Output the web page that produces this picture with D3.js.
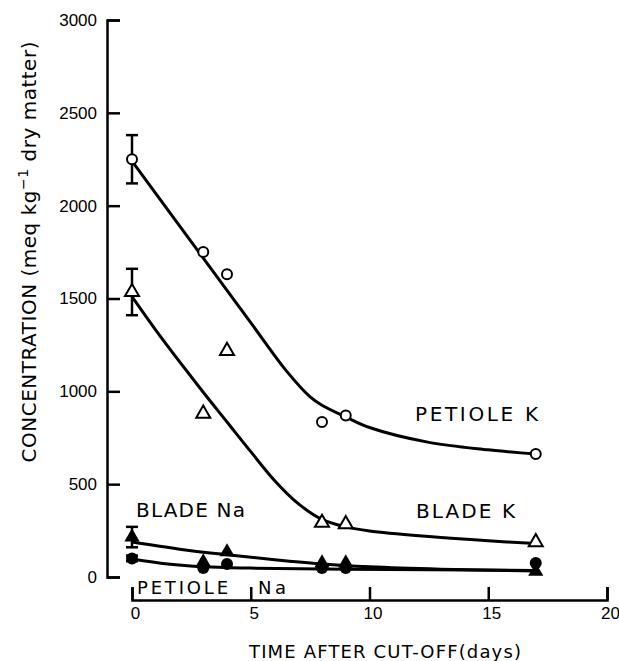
<!DOCTYPE html>
<html>
<head>
<meta charset="utf-8">
<style>
  body { margin: 0; background: #fff; }
  svg { display: block; font-family: 'DejaVu Sans', sans-serif; }
</style>
</head>
<body>
<svg width="619" height="661"></svg>
<script src="https://d3js.org/d3.v7.min.js"></script>
<script>
// measured points (days after cut-off)
const days = [0, 3, 4, 8, 9, 17];
const petioleK = [2250, 1750, 1630, 835, 870, 662];
const bladeK = [1535, 880, 1218, 292, 285, 188];
const bladeNa = [215, 80, 135, 75, 75, 30];
const petioleNa = [100, 48, 70, 48, 48, 75];

// error bars at day 0
const errDay0 = { petioleK: 130, bladeK: 125, bladeNa: 55, petioleNa: 15 };

// hand fitted curves
const petioleKFit = [[0, 2240], [3, 1718], [5, 1370], [6.5, 1110], [7.5, 970], [8, 925], [9, 862], [10, 805], [12.5, 725], [15, 685], [17, 662]];
const bladeKFit = [[0, 1510], [1, 1330], [2, 1160], [3, 995], [4, 835], [5, 675], [6, 520], [7, 395], [8, 310], [9, 270], [10, 248], [12.5, 218], [15, 195], [17, 180]];
const bladeNaFit = [[0, 188], [2, 150], [4, 120], [6, 93], [8, 70], [10, 55], [13, 42], [17, 32]];
const petioleNaFit = [[0, 97], [1.5, 70], [3, 55], [5, 48], [9, 42], [17, 35]];

const xTicks = [0, 5, 10, 15, 20];
const yTicks = [0, 500, 1000, 1500, 2000, 2500, 3000];

let svg = d3.select("svg");

let x = d3.scaleLinear().domain([0, 20]).range([132, 607]);
let y = d3.scaleLinear().domain([0, 3000]).range([577, 20]);

// y axis, ticks pointing inwards
let yAxis = svg.append("g")
    .attr("transform", "translate(107,0)")
    .call(d3.axisLeft(y).tickValues(yTicks).tickFormat(d3.format("d"))
        .tickSizeInner(-13).tickSizeOuter(-13).tickPadding(10));
yAxis.select(".domain").attr("stroke-width", 2.5);
yAxis.selectAll(".tick line").attr("stroke-width", 2.5);
yAxis.selectAll("text").style("font-size", "17px").attr("fill", "#000");

// x axis, sits below the plot
let xAxis = svg.append("g")
    .attr("transform", "translate(0,600)")
    .call(d3.axisBottom(x).tickValues(xTicks)
        .tickSizeInner(-13).tickSizeOuter(-13).tickPadding(7));
xAxis.select(".domain").attr("stroke-width", 2.5);
xAxis.selectAll(".tick line").attr("stroke-width", 2.5);
xAxis.selectAll("text").style("font-size", "17px").attr("fill", "#000").attr("dx", 3);

// axis titles
svg.append("text")
    .attr("x", 385).attr("y", 658)
    .attr("text-anchor", "middle")
    .attr("textLength", 272)
    .attr("lengthAdjust", "spacing")
    .style("font-size", "18px")
    .text("TIME AFTER CUT-OFF(days)");

let yt = svg.append("text")
    .attr("transform", "translate(36,252) rotate(-90)")
    .attr("text-anchor", "middle")
    .attr("textLength", 421)
    .attr("lengthAdjust", "spacing")
    .style("font-size", "20px");
yt.append("tspan").text("CONCENTRATION (meq kg");
yt.append("tspan").attr("dy", -8).style("font-size", "14px").text("−1");
yt.append("tspan").attr("dy", 8).text(" dry matter)");

// fitted lines
let line = d3.line()
    .x(d => x(d[0]))
    .y(d => y(d[1]))
    .curve(d3.curveCatmullRom.alpha(0.5));

[petioleKFit, bladeKFit, bladeNaFit, petioleNaFit].forEach(f => {
    svg.append("path")
        .attr("d", line(f))
        .attr("fill", "none")
        .attr("stroke", "#000")
        .attr("stroke-width", 3);
});

// error bars at day 0
function errBar(v, e) {
    let g = svg.append("g").attr("stroke", "#000").attr("stroke-width", 2.5);
    g.append("line").attr("x1", x(0)).attr("x2", x(0)).attr("y1", y(v - e)).attr("y2", y(v + e));
    g.append("line").attr("x1", x(0) - 6).attr("x2", x(0) + 6).attr("y1", y(v - e)).attr("y2", y(v - e));
    g.append("line").attr("x1", x(0) - 6).attr("x2", x(0) + 6).attr("y1", y(v + e)).attr("y2", y(v + e));
}
errBar(petioleK[0], errDay0.petioleK);
errBar(bladeK[0], errDay0.bladeK);
errBar(bladeNa[0], errDay0.bladeNa);
errBar(petioleNa[0], errDay0.petioleNa);

let tri = d3.symbol().type(d3.symbolTriangle).size(85);
let triBig = d3.symbol().type(d3.symbolTriangle).size(100);

// open circles: petiole K
svg.selectAll(".pk")
    .data(days.map((d, i) => [d, petioleK[i]]))
    .join("circle")
    .attr("cx", d => x(d[0]))
    .attr("cy", d => y(d[1]))
    .attr("r", 5)
    .attr("fill", "#fff")
    .attr("stroke", "#000")
    .attr("stroke-width", 2);

// open triangles: blade K
svg.selectAll(".bk")
    .data(days.map((d, i) => [d, bladeK[i]]))
    .join("path")
    .attr("d", tri)
    .attr("transform", d => `translate(${x(d[0])},${y(d[1])})`)
    .attr("fill", "#fff")
    .attr("stroke", "#000")
    .attr("stroke-width", 2);

// filled circles: petiole Na
svg.selectAll(".pn")
    .data(days.map((d, i) => [d, petioleNa[i]]))
    .join("circle")
    .attr("cx", d => x(d[0]))
    .attr("cy", d => y(d[1]))
    .attr("r", 6)
    .attr("fill", "#000");

// filled triangles: blade Na
svg.selectAll(".bn")
    .data(days.map((d, i) => [d, bladeNa[i]]))
    .join("path")
    .attr("d", triBig)
    .attr("transform", d => `translate(${x(d[0])},${y(d[1])})`)
    .attr("fill", "#000");

// curve labels
function label(t, x0, yb, w, size) {
    svg.append("text")
        .attr("x", x0).attr("y", yb)
        .attr("textLength", w)
        .attr("lengthAdjust", "spacing")
        .style("font-size", size + "px")
        .text(t);
}
label("PETIOLE K", 415, 421, 123, 20);
label("BLADE K", 416, 518, 99, 20);
label("BLADE Na", 136, 517, 109, 20);
label("PETIOLE", 137, 594, 91, 18);
label("Na", 258, 594, 28, 18);
</script>
</body>
</html>
